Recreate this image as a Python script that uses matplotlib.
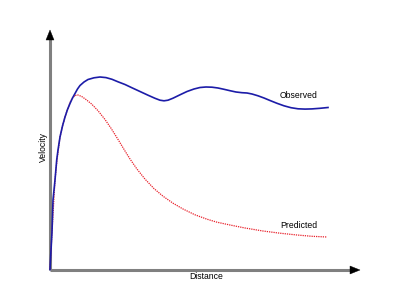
import matplotlib
matplotlib.use("Agg")
import matplotlib.pyplot as plt
from matplotlib.patches import Polygon

# Data (distance, velocity in arbitrary units)
obs_x = [0, 1, 2, 3, 5, 6.7, 8, 10, 12.5, 15, 17.5, 20, 22.5, 25, 27.5, 30, 34, 38,
         44, 50, 56, 62, 68, 75, 82, 90, 98, 105, 110, 114, 118, 123, 130, 137,
         144, 150, 156, 162, 168, 174, 180, 186, 192, 197, 202, 208, 214, 220,
         227, 234, 241, 248, 255, 262, 270, 278]
obs_y = [0.5, 20, 38, 70, 90, 110, 120, 133, 144, 153, 160.5, 166.5, 172, 176.5,
         181, 184.5, 188, 190.5, 192.2, 193, 192.4, 190.7, 188.2, 185.5, 182.2,
         178.5, 174.8, 171.7, 169.8, 169.2, 169.8, 171.8, 175.2, 178.5, 181,
         182.5, 183, 182.8, 182, 180.7, 179.3, 178, 177.3, 177, 176, 174.2, 172,
         169.5, 166.7, 164.2, 162.3, 161.2, 160.9, 161.1, 161.7, 162.5]

pred_x = [0, 2, 5, 7, 10, 12.5, 15, 17.5, 20, 22.5, 25, 28, 31.7, 36, 41.7, 48,
          55, 61, 68, 75, 80, 87, 95, 104, 113, 123, 133, 145, 157, 167, 180,
          195, 213, 230, 247, 262, 277]
pred_y = [0.5, 38, 90, 110, 133, 144, 153, 160.5, 167.5, 172, 174.5, 175, 173.5,
          170.5, 165.9, 159.3, 150.5, 141.8, 130.6, 119, 111, 100.9, 90.9, 81.4,
          73.8, 66.8, 61, 55.2, 50.8, 47.8, 45, 42, 39, 36.8, 35, 33.7, 33]

labels = {"Observed": (249, 174), "Predicted": (249, 44)}
x_label = "Distance"
y_label = "Velocity"

plt.rcParams['font.family'] = ['Liberation Sans', 'DejaVu Sans']
fig = plt.figure(figsize=(4, 3), dpi=100)
ax = fig.add_axes([0, 0, 1, 1])
ax.set_xlim(-50, 350)
ax.set_ylim(-30, 270)
ax.axis('off')

# axes lines
ax.plot([0, 0], [0, 233], color='#808080', lw=2.2, solid_capstyle='butt', zorder=1)
ax.plot([0, 303], [0, 0], color='#808080', lw=2.2, solid_capstyle='butt', zorder=1)
ax.add_patch(Polygon([[0, 240], [-4, 230], [4, 230]], closed=True,
                     facecolor='black', edgecolor='black', lw=0.3, zorder=3))
ax.add_patch(Polygon([[310, 0], [300, 4], [300, -4]], closed=True,
                     facecolor='black', edgecolor='black', lw=0.3, zorder=3))

ax.plot(pred_x, pred_y, color='#e8202a', lw=0.9, linestyle=(0, (1, 0.8)), zorder=2)
ax.plot(obs_x, obs_y, color='#1c1ca8', lw=1.2, zorder=2)

for txt, (lx, ly) in labels.items():
    ax.text(lx, ly, txt, ha='center', va='center', fontsize=6.2, color='black')
ax.text(156, -6.5, x_label, ha='center', va='center', fontsize=6.2, color='black')
ax.text(-7, 123, y_label, ha='center', va='center', fontsize=6.2, color='black',
        rotation=90)

fig.savefig('out.png', dpi=100)
